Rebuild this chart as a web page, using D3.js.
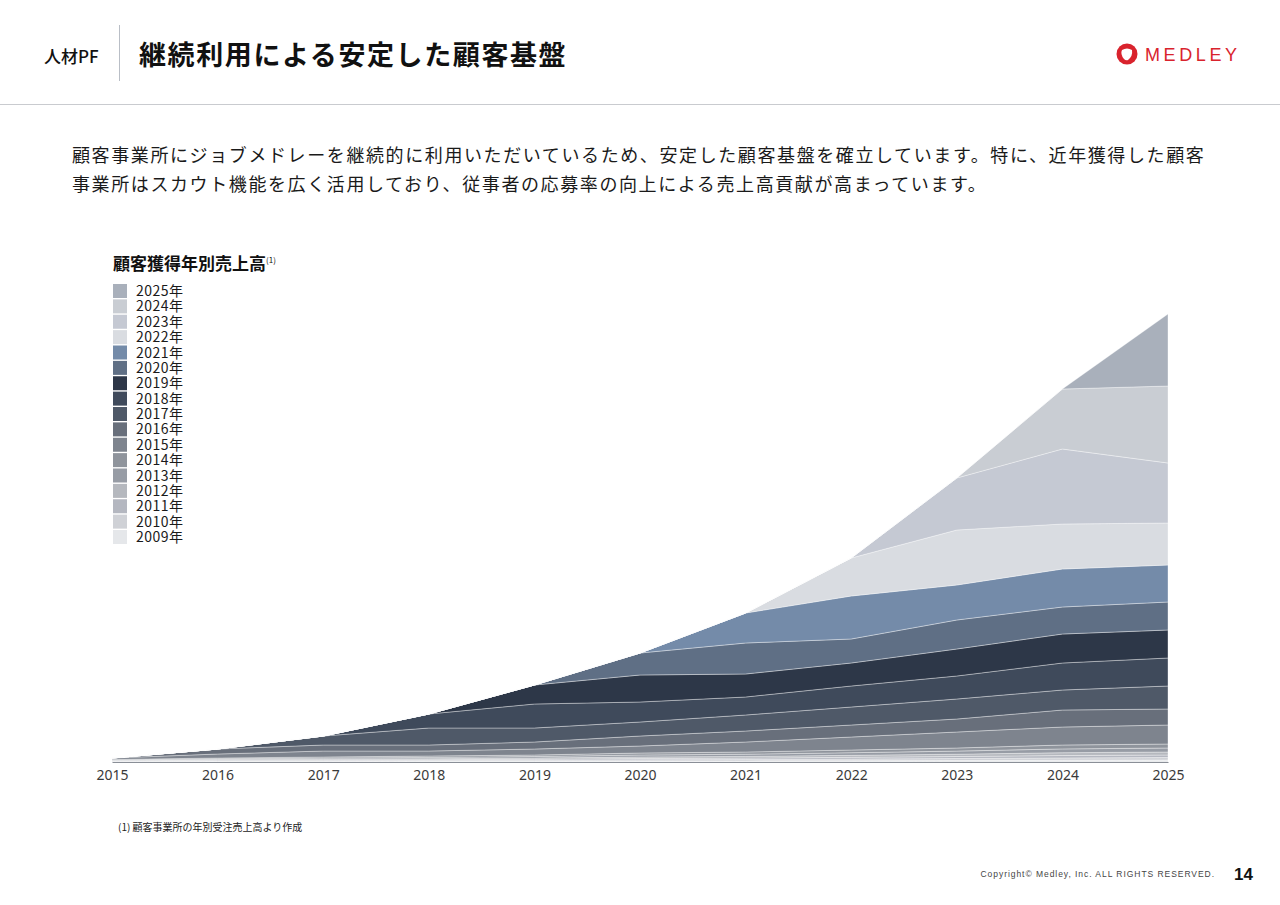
<!DOCTYPE html>
<html lang="ja">
<head>
<meta charset="utf-8">
<script src="https://cdn.jsdelivr.net/npm/d3@7"></script>
<style>
  body { margin: 0; background: #fff; }
  svg { display: block; font-family: "Noto Sans CJK JP", "Noto Sans", sans-serif; }
</style>
</head>
<body>
<div class="slide"></div>
<script>
// x axis years
const years = [2015, 2016, 2017, 2018, 2019, 2020, 2021, 2022, 2023, 2024, 2025];

// revenue by acquisition-year cohort, one value per year above (relative units)
const c2009 = [0.3, 0.5, 0.6, 0.7, 0.8, 1.0, 1.1, 1.3, 1.5, 1.8, 2];
const c2010 = [0.4, 0.6, 0.7, 0.8, 1.0, 1.2, 1.4, 1.7, 2.0, 2.3, 2.5];
const c2011 = [0.4, 0.6, 0.7, 0.8, 1.0, 1.3, 1.4, 1.7, 2.0, 2.4, 2.5];
const c2012 = [0.4, 0.7, 0.9, 1.0, 1.2, 1.5, 1.7, 2.0, 2.3, 2.8, 3];
const c2013 = [0.5, 0.8, 1.0, 1.3, 1.5, 2.0, 2.2, 2.6, 3.1, 3.8, 4];
const c2014 = [0.5, 0.8, 1.1, 1.4, 1.5, 2.0, 2.2, 2.7, 3.1, 3.9, 4];
const c2015 = [1.5, 4, 6, 5, 6, 7, 10, 13, 16, 18, 19];
const c2016 = [0, 5, 6, 6, 7, 10, 11, 12, 13, 17, 16];
const c2017 = [0, 0, 9, 17, 14, 14, 16, 18, 20, 20, 23];
const c2018 = [0, 0, 0, 14, 24, 20, 18, 21, 23, 27, 28];
const c2019 = [0, 0, 0, 0, 19, 27, 23, 23, 27, 29, 28];
const c2020 = [0, 0, 0, 0, 0, 22, 31, 24, 29, 27, 28];
const c2021 = [0, 0, 0, 0, 0, 0, 30, 43, 35, 38, 37];
const c2022 = [0, 0, 0, 0, 0, 0, 0, 38, 55, 45, 42];
const c2023 = [0, 0, 0, 0, 0, 0, 0, 0, 52, 75, 60];
const c2024 = [0, 0, 0, 0, 0, 0, 0, 0, 0, 60, 77];
const c2025 = [0, 0, 0, 0, 0, 0, 0, 0, 0, 0, 72];

const cohorts = ['2009', '2010', '2011', '2012', '2013', '2014', '2015', '2016',
    '2017', '2018', '2019', '2020', '2021', '2022', '2023', '2024', '2025'];
const cohortSeries = [c2009, c2010, c2011, c2012, c2013, c2014, c2015, c2016,
    c2017, c2018, c2019, c2020, c2021, c2022, c2023, c2024, c2025];

const cohortColors = ['#e5e7ea', '#cfd1d6', '#b4b7c0', '#b5b8be', '#979ca5', '#8f949c',
    '#7e848e', '#686f7b', '#4f5968', '#3f4a5b', '#2d3748', '#5f6f85', '#748ba9',
    '#d9dce1', '#c5c9d3', '#c9cdd3', '#a9b0bb'];

const bodyLines = [
    '顧客事業所にジョブメドレーを継続的に利用いただいているため、安定した顧客基盤を確立しています。特に、近年獲得した顧客',
    '事業所はスカウト機能を広く活用しており、従事者の応募率の向上による売上高貢献が高まっています。'
];

const W = 1280, H = 905;

const svg = d3.select('.slide')
    .append('svg')
    .attr('width', W)
    .attr('height', H);

// ---- header ----
svg.append('text')
    .attr('x', 44).attr('y', 63)
    .attr('font-size', 17).attr('font-weight', 500).attr('fill', '#111')
    .text('人材PF');

svg.append('line')
    .attr('x1', 119.5).attr('x2', 119.5).attr('y1', 25).attr('y2', 81)
    .attr('stroke', '#b9bec6').attr('stroke-width', 1);

svg.append('text')
    .attr('x', 139).attr('y', 65)
    .attr('font-size', 27).attr('font-weight', 700).attr('fill', '#111')
    .attr('letter-spacing', 1.6)
    .text('継続利用による安定した顧客基盤');

svg.append('line')
    .attr('x1', 0).attr('x2', W).attr('y1', 104.5).attr('y2', 104.5)
    .attr('stroke', '#c9cbcf').attr('stroke-width', 1);

// logo
const logo = svg.append('g').attr('transform', 'translate(1127,54)');
logo.append('circle').attr('r', 10.5).attr('fill', '#d9232d');
logo.append('path')
    .attr('d', 'M-5,-4 Q0,-7 5,-4 Q6,2 1,6 Q-1,7 -3,5 Q-7,0 -5,-4 Z')
    .attr('fill', '#fff');
svg.append('text')
    .attr('x', 1145).attr('y', 61)
    .attr('font-family', '"Liberation Sans", Arial, sans-serif')
    .attr('font-size', 18).attr('font-weight', 400).attr('fill', '#d9232d')
    .attr('letter-spacing', 3.6)
    .text('MEDLEY');

// ---- body text ----
svg.selectAll('text.body')
    .data(bodyLines)
    .enter()
    .append('text')
    .attr('class', 'body')
    .attr('x', 72)
    .attr('y', (d, i) => 162 + i * 29)
    .attr('font-size', 18).attr('fill', '#1a1a1a')
    .attr('letter-spacing', 1.6)
    .text(d => d);

// ---- chart ----
const x = d3.scaleLinear().domain([2015, 2025]).range([112, 1168]);
const y = d3.scaleLinear().domain([0, 448]).range([762, 314]);

const rows = years.map((yr, i) => {
    const row = { year: yr };
    cohorts.forEach((c, k) => { row[c] = cohortSeries[k][i]; });
    return row;
});

const stack = d3.stack().keys(cohorts);
const layers = stack(rows);

const area = d3.area()
    .x(d => x(d.data.year))
    .y0(d => y(d[0]))
    .y1(d => y(d[1]));

svg.append('g')
    .selectAll('path')
    .data(layers)
    .enter()
    .append('path')
    .attr('d', area)
    .attr('fill', (d, i) => cohortColors[i])
    .attr('stroke', 'rgba(255,255,255,0.45)')
    .attr('stroke-width', 0.8);

const xAxis = svg.append('g')
    .attr('transform', 'translate(0,762)')
    .call(d3.axisBottom(x).tickValues(years).tickFormat(d3.format('d')).tickSize(0).tickPadding(8));
xAxis.select('.domain').attr('stroke', '#8a8f97').attr('stroke-width', 1.2);
xAxis.selectAll('text')
    .attr('font-family', '"Noto Sans", "Noto Sans CJK JP", sans-serif')
    .attr('font-size', 14).attr('fill', '#3a3a3a');

// chart title
const ct = svg.append('text')
    .attr('x', 113).attr('y', 270)
    .attr('font-size', 17).attr('font-weight', 700).attr('fill', '#111');
ct.append('tspan').text('顧客獲得年別売上高');
ct.append('tspan').attr('font-size', 8).attr('font-weight', 400).attr('dy', -7).text('(1)');

// legend (top = latest cohort)
const legendItems = cohorts.slice().reverse();
const legend = svg.append('g')
    .selectAll('g')
    .data(legendItems)
    .enter()
    .append('g')
    .attr('transform', (d, i) => `translate(113,${284 + i * 15.375})`);
legend.append('rect')
    .attr('width', 14).attr('height', 14)
    .attr('fill', d => cohortColors[cohorts.indexOf(d)]);
legend.append('text')
    .attr('x', 23).attr('y', 12)
    .attr('font-size', 14).attr('fill', '#1a1a1a')
    .attr('letter-spacing', 0.5)
    .text(d => d + '年');

// footnote
svg.append('text')
    .attr('x', 118).attr('y', 831)
    .attr('font-size', 10).attr('fill', '#222')
    .text('(1) 顧客事業所の年別受注売上高より作成');

// footer
svg.append('text')
    .attr('x', 1215).attr('y', 877)
    .attr('text-anchor', 'end')
    .attr('font-family', '"Liberation Sans", Arial, sans-serif')
    .attr('font-size', 8.5).attr('fill', '#444')
    .attr('letter-spacing', 0.95)
    .text('Copyright© Medley, Inc. ALL RIGHTS RESERVED.');
svg.append('text')
    .attr('x', 1234).attr('y', 880)
    .attr('font-family', '"Liberation Sans", Arial, sans-serif')
    .attr('font-size', 17).attr('font-weight', 700).attr('fill', '#111')
    .text('14');
</script>
</body>
</html>
